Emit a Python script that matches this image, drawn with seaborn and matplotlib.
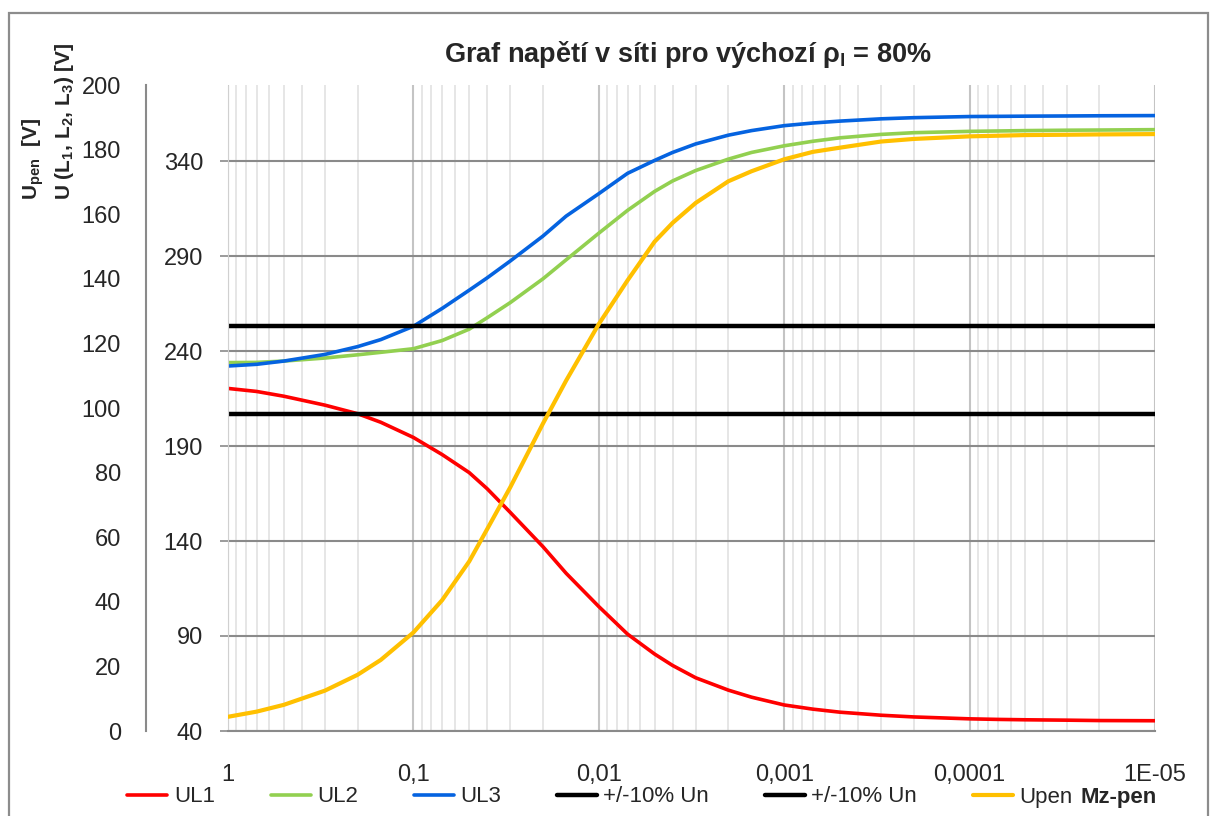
import numpy as np
import pandas as pd
import matplotlib
matplotlib.use("Agg")
import matplotlib.pyplot as plt
import matplotlib.ticker as mticker
from matplotlib.patches import Rectangle
import seaborn as sns

# %% Data
mz_pen = [1, 0.7, 0.5, 0.3, 0.2, 0.15,
          0.1, 0.07, 0.05, 0.04, 0.03, 0.02, 0.015,
          0.01, 0.007, 0.005, 0.004, 0.003, 0.002, 0.0015,
          0.001, 0.0007, 0.0005, 0.0003, 0.0002,
          0.0001, 0.00007, 0.00005, 0.00003, 0.00002,
          0.00001]

ul1 = [220.3, 218.7, 216.2, 211.5, 207.0, 202.5,
       194.5, 185.5, 176.0, 167.5, 155.0, 137.0, 123.0,
       105.5, 91.0, 80.5, 74.5, 68.0, 61.5, 57.8,
       53.7, 51.5, 49.9, 48.3, 47.4,
       46.4, 46.1, 45.9, 45.7, 45.5,
       45.4]
ul2 = [233.9, 234.0, 234.7, 236.3, 238.0, 239.3,
       241.2, 245.5, 251.5, 257.5, 265.5, 278.0, 288.0,
       302.0, 314.0, 324.0, 329.5, 335.0, 341.0, 344.5,
       348.0, 350.4, 352.2, 354.0, 354.9,
       355.6, 355.8, 356.0, 356.2, 356.3,
       356.5]
ul3 = [232.1, 233.0, 234.7, 238.2, 242.3, 246.0,
       253.0, 262.4, 272.0, 278.5, 287.4, 300.5, 311.0,
       322.8, 333.5, 340.3, 344.5, 349.0, 353.6, 356.0,
       358.6, 360.0, 361.0, 362.2, 362.8,
       363.4, 363.5, 363.6, 363.7, 363.8,
       363.9]
upen = [4.4, 6.0, 8.1, 12.5, 17.4, 22.0,
        30.5, 40.5, 52.5, 62.5, 75.5, 95.2, 108.5,
        126.0, 139.5, 151.5, 157.3, 163.5, 170.2, 173.3,
        177.0, 179.3, 180.6, 182.5, 183.3,
        184.1, 184.3, 184.5, 184.6, 184.7,
        184.8]

limit_x = [1, 0.00001]
un_plus10 = [253, 253]
un_minus10 = [207, 207]

x_ticks = [1, 0.1, 0.01, 0.001, 0.0001, 0.00001]
x_tick_labels = ["1", "0,1", "0,01", "0,001", "0,0001", "1E-05"]
ul_ticks = [40, 90, 140, 190, 240, 290, 340]
upen_ticks = list(range(0, 201, 20))

df = pd.DataFrame({"mz": mz_pen, "UL1": ul1, "UL2": ul2, "UL3": ul3, "Upen": upen})

# %% Style
sns.set_style("white")
plt.rcParams["font.family"] = ["Liberation Sans", "DejaVu Sans"]
plt.rcParams["mathtext.fontset"] = "custom"
plt.rcParams["mathtext.rm"] = "Liberation Sans"
plt.rcParams["mathtext.bf"] = "Liberation Sans:bold"

fig = plt.figure(figsize=(12.16, 8.16), dpi=100)
ax = fig.add_axes([228 / 1216, 85 / 816, 927 / 1216, 646 / 816])
ax.set_xscale("log")

lw = 2.6
sns.lineplot(data=df, x="mz", y="UL1", ax=ax, color="#FF0000", lw=lw, label="UL1")
sns.lineplot(data=df, x="mz", y="UL2", ax=ax, color="#92D050", lw=lw, label="UL2")
sns.lineplot(data=df, x="mz", y="UL3", ax=ax, color="#0563E0", lw=lw, label="UL3")
sns.lineplot(x=limit_x, y=un_plus10, ax=ax, color="black", lw=lw + 0.6, label="+/-10% Un")
sns.lineplot(x=limit_x, y=un_minus10, ax=ax, color="black", lw=lw + 0.6, label="+/-10% Un")

ax.set_xlim(1, 0.00001)
ax.set_ylim(40, 380)
ax.set_yticks(ul_ticks)
ax.xaxis.set_major_locator(mticker.FixedLocator(x_ticks))
ax.xaxis.set_major_formatter(mticker.FixedFormatter(x_tick_labels))
ax.xaxis.set_minor_locator(mticker.LogLocator(base=10, subs=np.arange(2, 10), numticks=20))
ax.xaxis.set_minor_formatter(mticker.NullFormatter())
ax.set_axisbelow(True)
ax.grid(axis="y", which="major", color="#8a8a8a", lw=1.5)
ax.grid(axis="x", which="major", color="#c4c4c4", lw=1.5)
ax.grid(axis="x", which="minor", color="#e4e4e4", lw=1.3)
ax.tick_params(axis="y", which="major", direction="out", length=6, width=1.2,
               color="#8a8a8a", pad=12, labelsize=17)
ax.tick_params(axis="x", which="major", direction="out", length=6, width=1.2,
               color="#8a8a8a", pad=18, labelsize=17)
ax.tick_params(axis="x", which="minor", length=0)
ax.set_xlabel("")
ax.set_ylabel("")
for s in ["top", "right"]:
    ax.spines[s].set_visible(False)
ax.spines["left"].set_color("#d0d0d0")
ax.spines["left"].set_linestyle((0, (2, 1)))
ax.spines["bottom"].set_color("#8a8a8a")
ax.spines["bottom"].set_linewidth(1.5)

# secondary scale for Upen, drawn on the left, further out
ax2 = ax.twinx()
sns.lineplot(data=df, x="mz", y="Upen", ax=ax2, color="#FFC000", lw=lw + 0.4, label="Upen")
ax2.set_ylim(0, 200)
ax2.set_yticks(upen_ticks)
ax2.yaxis.set_ticks_position("left")
ax2.spines["left"].set_position(("outward", 59))
ax2.spines["left"].set_color("#8a8a8a")
ax2.spines["left"].set_linewidth(1.5)
for s in ["top", "right", "bottom"]:
    ax2.spines[s].set_visible(False)
ax2.tick_params(axis="y", length=0, pad=18, labelsize=17)
ax2.set_ylabel("")
ax2.grid(False)

h1, l1 = ax.get_legend_handles_labels()
h2, l2 = ax2.get_legend_handles_labels()
for a in (ax, ax2):
    if a.get_legend() is not None:
        a.get_legend().remove()

fig.legend(h1 + h2, l1 + l2, loc="center", bbox_to_anchor=(600 / 1216, 1 - 797 / 816),
           ncol=6, frameon=False, fontsize=16, handlelength=1.8, handletextpad=0.3,
           columnspacing=2.5)

# %% Texts
fig.text(688 / 1216, 1 - 55 / 816, "Graf napětí v síti pro výchozí ρ$_\\mathbf{l}$ = 80%",
         ha="center", va="center", fontsize=19.5, fontweight="bold")
fig.text(1119 / 1216, 1 - 797 / 816, "Mz-pen", ha="center", va="center",
         fontsize=16, fontweight="bold")
fig.text(33 / 1216, 1 - 200 / 816, "U$_\\mathbf{pen}$  [V]", rotation=90,
         ha="center", va="bottom", fontsize=15, fontweight="bold")
fig.text(64 / 1216, 1 - 200 / 816,
         "U (L$_\\mathbf{1}$, L$_\\mathbf{2}$, L$_\\mathbf{3}$) [V]", rotation=90,
         ha="center", va="bottom", fontsize=15, fontweight="bold")

# chart frame
fig.patches.append(Rectangle((9 / 1216, -0.02), 1199 / 1216, 1 - 13 / 816 + 0.02,
                             transform=fig.transFigure, fill=False,
                             edgecolor="#8c8c8c", lw=1.6))

fig.savefig("out.png", dpi=100)
